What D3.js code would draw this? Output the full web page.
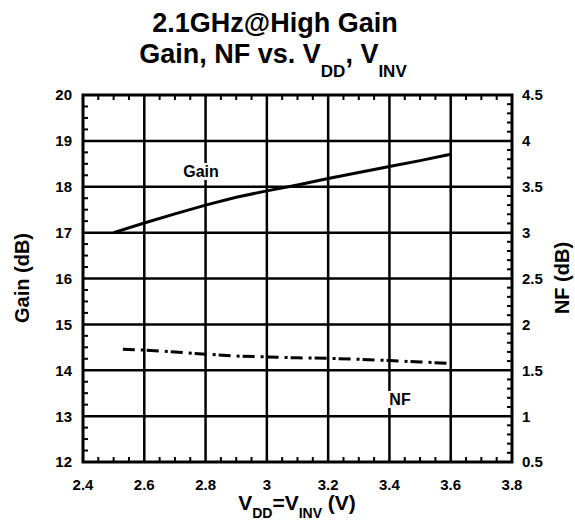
<!DOCTYPE html>
<html><head><meta charset="utf-8">
<script src="https://cdn.jsdelivr.net/npm/d3@7"></script>
<style>body{margin:0;background:#fff}svg{display:block}text{font-family:"Liberation Sans",Arial,sans-serif;font-weight:bold;fill:#000}</style>
</head><body>
<script>
const vdd = [2.5,2.6,2.7,2.8,2.9,3.0,3.1,3.2,3.3,3.4,3.5,3.6];
const gain = [17.0,17.21,17.41,17.60,17.77,17.91,18.04,18.18,18.31,18.44,18.57,18.71];
const vddNF = [2.53,2.6,2.7,2.8,2.9,3.0,3.1,3.2,3.3,3.4,3.5,3.6];
const nf = [1.73,1.72,1.70,1.675,1.655,1.645,1.635,1.63,1.62,1.605,1.59,1.575];
const xTicks = [2.4,2.6,2.8,3.0,3.2,3.4,3.6,3.8];
const xTickLabels = ["2.4","2.6","2.8","3","3.2","3.4","3.6","3.8"];
const gainTicks = [12,13,14,15,16,17,18,19,20];
const nfTicks = [0.5,1,1.5,2,2.5,3,3.5,4,4.5];
const nfTickLabels = ["0.5","1","1.5","2","2.5","3","3.5","4","4.5"];

const W=575,H=524;
const L=83,R=512,T=95,B=462;
const svg=d3.select("body").append("svg").attr("width",W).attr("height",H);
const x=d3.scaleLinear().domain([2.4,3.8]).range([L,R]);
const yG=d3.scaleLinear().domain([12,20]).range([B,T]);
const yN=d3.scaleLinear().domain([0.5,4.5]).range([B,T]);

// grid
const g=svg.append("g");
g.selectAll(".vg").data(xTicks.slice(1,-1)).join("line")
 .attr("x1",d=>x(d)).attr("x2",d=>x(d)).attr("y1",T).attr("y2",B)
 .attr("stroke","#000").attr("stroke-width",2.5);
g.selectAll(".hg").data(gainTicks.slice(1,-1)).join("line")
 .attr("y1",d=>yG(d)).attr("y2",d=>yG(d)).attr("x1",L).attr("x2",R)
 .attr("stroke","#000").attr("stroke-width",2.5);

// minor ticks (inward)
const tl=5;
const xMinor=d3.range(2.45,3.8,0.05).filter(v=>Math.abs(v*5-Math.round(v*5))>0.01);
svg.append("g").selectAll("line").data(xMinor).join("line")
 .attr("x1",d=>x(d)).attr("x2",d=>x(d)).attr("y1",B).attr("y2",B-tl).attr("stroke","#000").attr("stroke-width",2);
svg.append("g").selectAll("line").data(xMinor).join("line")
 .attr("x1",d=>x(d)).attr("x2",d=>x(d)).attr("y1",T).attr("y2",T+tl).attr("stroke","#000").attr("stroke-width",2);
const gMinor=d3.range(12.25,20,0.25).filter(v=>Math.abs(v-Math.round(v))>0.01);
svg.append("g").selectAll("line").data(gMinor).join("line")
 .attr("y1",d=>yG(d)).attr("y2",d=>yG(d)).attr("x1",L).attr("x2",L+tl).attr("stroke","#000").attr("stroke-width",2);
const nMinor=d3.range(0.6,4.5,0.1).filter(v=>Math.abs(v*2-Math.round(v*2))>0.01);
svg.append("g").selectAll("line").data(nMinor).join("line")
 .attr("y1",d=>yN(d)).attr("y2",d=>yN(d)).attr("x1",R).attr("x2",R-tl).attr("stroke","#000").attr("stroke-width",2);

// frame
svg.append("rect").attr("x",L).attr("y",T).attr("width",R-L).attr("height",B-T)
 .attr("fill","none").attr("stroke","#000").attr("stroke-width",3);

// tick labels
svg.append("g").selectAll("text").data(xTicks).join("text")
 .attr("x",d=>x(d)).attr("y",490).attr("text-anchor","middle").attr("font-size",15)
 .text((d,i)=>xTickLabels[i]);
svg.append("g").selectAll("text").data(gainTicks).join("text")
 .attr("x",72).attr("y",d=>yG(d)).attr("dy","0.36em").attr("text-anchor","end").attr("font-size",15)
 .text(d=>d);
svg.append("g").selectAll("text").data(nfTicks).join("text")
 .attr("x",522).attr("y",d=>yN(d)).attr("dy","0.36em").attr("text-anchor","start").attr("font-size",15)
 .text((d,i)=>nfTickLabels[i]);

// lines
const gainPts=vdd.map((v,i)=>[v,gain[i]]);
const nfPts=vddNF.map((v,i)=>[v,nf[i]]);
svg.append("path").datum(gainPts)
 .attr("d",d3.line().x(d=>x(d[0])).y(d=>yG(d[1])))
 .attr("fill","none").attr("stroke","#000").attr("stroke-width",3);
svg.append("path").datum(nfPts)
 .attr("d",d3.line().x(d=>x(d[0])).y(d=>yN(d[1])))
 .attr("fill","none").attr("stroke","#000").attr("stroke-width",3)
 .attr("stroke-dasharray","12,6,3,3");

// series labels with white background
function label(txt,cx,by){
  const t=svg.append("text").attr("x",cx).attr("y",by).attr("text-anchor","middle").attr("font-size",16).text(txt);
  const bb=t.node().getBBox();
  svg.insert("rect",()=>t.node()).attr("x",bb.x-2).attr("y",bb.y).attr("width",bb.width+4).attr("height",bb.height).attr("fill","#fff");
}
label("Gain",201,177);
label("NF",400,405);

// titles
svg.append("text").attr("x",275).attr("y",32).attr("text-anchor","middle").attr("font-size",27).text("2.1GHz@High Gain");
const t2=svg.append("text").attr("x",273).attr("y",63).attr("text-anchor","middle").attr("font-size",27);
t2.append("tspan").text("Gain, NF vs. V");
t2.append("tspan").attr("font-size",17).attr("dy",14).text("DD");
t2.append("tspan").attr("dy",-14).text(", V");
t2.append("tspan").attr("font-size",17).attr("dy",14).text("INV");

// axis titles
const xt=svg.append("text").attr("x",297).attr("y",510).attr("text-anchor","middle").attr("font-size",21);
xt.append("tspan").text("V");
xt.append("tspan").attr("font-size",14).attr("dy",8).text("DD");
xt.append("tspan").attr("dy",-8).text("=V");
xt.append("tspan").attr("font-size",14).attr("dy",8).text("INV");
xt.append("tspan").attr("dy",-8).text(" (V)");

svg.append("text").attr("transform","translate(29,278) rotate(-90)").attr("text-anchor","middle").attr("font-size",20).text("Gain (dB)");
svg.append("text").attr("transform","translate(569,278) rotate(-90)").attr("text-anchor","middle").attr("font-size",20).text("NF (dB)");
</script>
</body></html>
